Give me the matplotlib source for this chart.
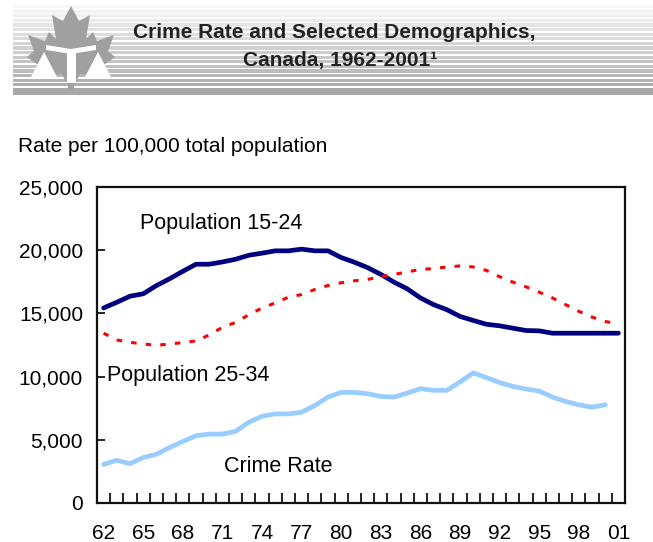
import matplotlib
matplotlib.use('Agg')
import matplotlib.pyplot as plt
from matplotlib import font_manager
from matplotlib.patches import Polygon, Rectangle

# Data (1962-2001)
years = list(range(1962, 2002))
tick_labels = ['62', '65', '68', '71', '74', '77', '80', '83', '86', '89', '92', '95', '98', '01']

pop_15_24 = [15430, 15880, 16360, 16550, 17200, 17740, 18330, 18890, 18890, 19070,
             19285, 19600, 19764, 19950, 19950, 20083, 19950, 19950, 19418, 19050,
             18620, 18088, 17476, 16944, 16226, 15694, 15295, 14763, 14444, 14140,
             14018, 13832, 13646, 13619, 13433, 13433, 13433, 13433, 13433, 13433]

pop_25_34 = [13430, 12900, 12715, 12580, 12475, 12580, 12690, 12820, 13300, 13900,
             14284, 14896, 15428, 15827, 16279, 16492, 16891, 17210, 17423, 17580,
             17689, 17900, 18088, 18274, 18487, 18540, 18673, 18753, 18673, 18400,
             17900, 17476, 17104, 16678, 16226, 15694, 15162, 14710, 14364, 14178]

crime_rate = [3059, 3378, 3112, 3591, 3857, 4389, 4868, 5320, 5453, 5453,
              5666, 6384, 6863, 7049, 7049, 7182, 7714, 8379, 8751, 8751,
              8645, 8432, 8379, 8698, 9044, 8911, 8911, 9576, 10294, 9922,
              9523, 9230, 9017, 8858, 8379, 8033, 7767, 7581, 7767]

# fonts
available = {f.name for f in font_manager.fontManager.ttflist}
body_font = 'Liberation Sans' if 'Liberation Sans' in available else 'DejaVu Sans'
plt.rcParams['font.family'] = body_font

W, H = 653, 542
fig = plt.figure(figsize=(W / 100, H / 100), dpi=100)

# ---- banner (pixel coordinates) ----
bg = fig.add_axes([0, 0, 1, 1], zorder=0)
bg.set_xlim(0, W)
bg.set_ylim(H, 0)
bg.axis('off')

y = 5.0
top, bot = 5.0, 88.0
while y < bot:
    g = 0.97 - 0.30 * (y - top) / (bot - top)
    bg.add_patch(Rectangle((13, y), W - 13, 3.2, color=(g, g, g), lw=0))
    y += 4.6
bg.add_patch(Rectangle((13, 88), W - 13, 7, color=(0.66, 0.66, 0.66), lw=0))

# maple leaf logo
half = [(71, 6), (79, 21), (90, 15), (86, 39), (93, 32), (97, 41), (114, 35),
        (108, 51), (115, 57), (101, 67), (104, 77), (80, 74), (76, 82), (74, 82), (74, 90)]
leaf = half + [(142 - px, py) for px, py in reversed(half)]
bg.add_patch(Polygon(leaf, closed=True, color='#a0a0a0', lw=0))
white = '#ffffff'
bg.add_patch(Polygon([(46, 45), (71, 49), (96, 45), (96, 50), (71, 54), (46, 50)], color=white, lw=0))
bg.add_patch(Rectangle((67, 53), 9, 30, color=white, lw=0))
bg.add_patch(Polygon([(44, 52), (31, 77), (57, 77)], color=white, lw=0))
bg.add_patch(Polygon([(98, 52), (85, 77), (111, 77)], color=white, lw=0))

fig.text(334 / W, 1 - 33 / H, 'Crime Rate and Selected Demographics,',
         fontweight='bold', fontsize=15, color='#222222', ha='center', va='center')
fig.text(340 / W, 1 - 60 / H, 'Canada, 1962-2001\u00b9',
         fontweight='bold', fontsize=15, color='#222222', ha='center', va='center')

fig.text(18 / W, 1 - 147 / H, 'Rate per 100,000 total population', fontsize=15,
         ha='left', va='center')

# ---- chart ----
ax = fig.add_axes([97 / W, 1 - 503 / H, 528 / W, 316 / H], zorder=1)
ax.patch.set_alpha(0)
x_all = list(range(len(years)))
ax.plot(x_all, pop_15_24, color='#000080', lw=3.4, solid_capstyle='round')
ax.plot(x_all, pop_25_34, color='#ff0000', lw=2.2, dashes=(1.8, 3.0))
ax.plot(x_all[:len(crime_rate)], crime_rate, color='#99ccff', lw=3.4, solid_capstyle='round')

ax.set_xlim(-0.5, len(years) - 0.5)
ax.set_ylim(0, 25000)
ax.set_yticks(range(0, 25001, 5000))
ax.set_yticklabels([f'{v:,}' for v in range(0, 25001, 5000)])
ax.set_xticks(range(0, len(years), 3))
ax.set_xticklabels(tick_labels)
ax.set_xticks([i - 0.5 for i in range(len(years) + 1)], minor=True)
ax.tick_params(axis='y', direction='in', length=6, width=1.2, labelsize=15, pad=10)
ax.tick_params(axis='x', which='major', direction='in', length=0, labelsize=15, pad=15)
ax.tick_params(axis='x', which='minor', direction='in', length=7, width=1.2)
for s in ax.spines.values():
    s.set_linewidth(1.6)
    s.set_color('#111111')

ax.text(140, 224, 'Population 15-24', fontsize=15.5, ha='left', va='center',
        transform=bg.transData)
ax.text(107, 376, 'Population 25-34', fontsize=15.5, ha='left', va='center',
        transform=bg.transData)
ax.text(224, 466, 'Crime Rate', fontsize=15.5, ha='left', va='center',
        transform=bg.transData)

fig.savefig('out.png', dpi=100)
